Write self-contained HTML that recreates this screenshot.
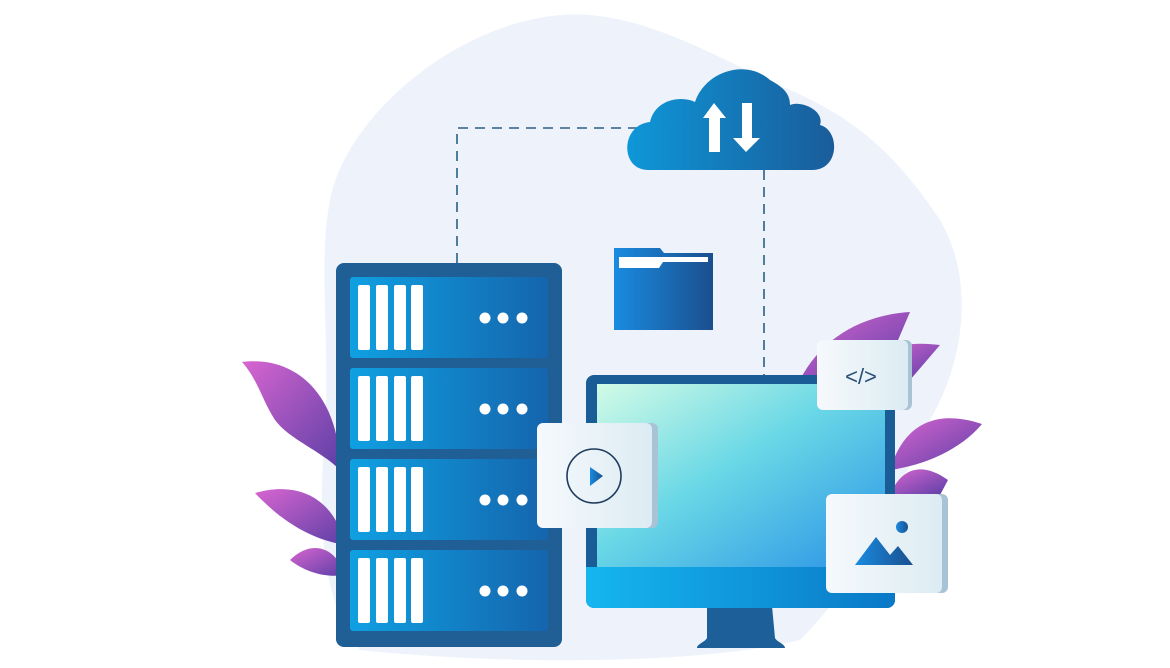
<!DOCTYPE html>
<html><head><style>html,body{margin:0;padding:0;background:#fff}svg{display:block}</style></head><body>
<svg width="1170" height="668" viewBox="0 0 1170 668" xmlns="http://www.w3.org/2000/svg">
<defs>
<linearGradient id="unit" x1="0" x2="1"><stop offset="0" stop-color="#0fa0e2"/><stop offset="1" stop-color="#1565ad"/></linearGradient>
<linearGradient id="cloud" x1="0" x2="1"><stop offset="0" stop-color="#0e97d8"/><stop offset="1" stop-color="#1a5c9a"/></linearGradient>
<linearGradient id="screen" x1="0" y1="0" x2="1" y2="1"><stop offset="0" stop-color="#d2fbe6"/><stop offset="0.45" stop-color="#6ad8e6"/><stop offset="1" stop-color="#2a92e6"/></linearGradient>
<linearGradient id="chin" x1="0" x2="1"><stop offset="0" stop-color="#15b6f0"/><stop offset="1" stop-color="#0a78c6"/></linearGradient>
<linearGradient id="leaf" x1="0" y1="0" x2="1" y2="1"><stop offset="0" stop-color="#d865d0"/><stop offset="1" stop-color="#5b3fa6"/></linearGradient>
<linearGradient id="card" x1="0" x2="1"><stop offset="0" stop-color="#f6f9fc"/><stop offset="1" stop-color="#dcecf3"/></linearGradient>
<linearGradient id="icon" x1="0" x2="1"><stop offset="0" stop-color="#1a8be0"/><stop offset="1" stop-color="#1a4f8e"/></linearGradient>
</defs>
<path d="M560,15 C640,8 720,60 790,90 C860,120 900,160 940,220 C975,280 965,360 930,420 C900,480 880,560 800,640 C700,665 500,665 360,650 C320,600 318,520 325,430 C330,340 318,260 330,200 C345,120 450,25 560,15 Z" fill="#eef3fb"/>
<path d="M242,362 C300,355 340,400 340,470 C320,450 290,440 275,420 C262,400 258,380 242,362 Z" fill="url(#leaf)"/>
<path d="M255,493 C300,480 335,500 345,545 C315,540 285,525 255,493 Z" fill="url(#leaf)"/>
<path d="M290,560 C310,540 335,545 345,575 C325,578 305,572 290,560 Z" fill="url(#leaf)"/>
<path d="M910,312 C860,315 820,340 800,380 L880,380 C890,360 900,335 910,312 Z" fill="url(#leaf)"/>
<path d="M940,345 C900,340 880,350 870,370 L910,380 Z" fill="url(#leaf)"/>
<path d="M982,424 C940,410 905,420 890,470 C925,465 960,450 982,424 Z" fill="url(#leaf)"/>
<path d="M948,480 C920,460 900,470 890,495 L940,495 Z" fill="url(#leaf)"/>
<g stroke="#2a5f88" stroke-width="1.6" stroke-dasharray="10,7" fill="none">
<path d="M457,263 V128 H640"/><path d="M764,170 V376"/>
</g>
<path d="M648,170 C620,170 620,125 650,122 C655,100 680,95 695,102 C705,72 745,58 770,80 C785,88 790,95 790,105 C800,100 825,110 820,125 C840,130 840,170 812,170 Z" fill="url(#cloud)"/>
<path d="M714,103 L703,118 H709 V152 H720 V118 H726 Z M742,103 V138 H733 L746,152 L760,138 H752 V103 Z" fill="#fff"/>
<path d="M614,248 H660 L664,253 H713 V330 H614 Z" fill="url(#icon)"/>
<path d="M619,257 H708 V262 H663 L659,268 H619 Z" fill="#fff"/>
<rect x="336" y="263" width="226" height="384" rx="8" fill="#1f5f96"/>
<g id="u">
<rect x="350" y="277" width="198" height="81" rx="3" fill="url(#unit)"/>
<g fill="#fff"><rect x="358" y="285" width="12" height="65" rx="2"/><rect x="376" y="285" width="12" height="65" rx="2"/><rect x="394" y="285" width="12" height="65" rx="2"/><rect x="411" y="285" width="12" height="65" rx="2"/>
<circle cx="485" cy="318" r="5.5"/><circle cx="503" cy="318" r="5.5"/><circle cx="522" cy="318" r="5.5"/></g>
</g>
<use href="#u" y="91"/><use href="#u" y="182"/><use href="#u" y="273"/>
<path d="M707,606 H772 L775,638 C777,642 785,644 785,648 H697 C697,644 705,642 707,638 Z" fill="#1d5f98"/>
<rect x="586" y="375" width="309" height="233" rx="8" fill="#1a5d96"/>
<rect x="597" y="384" width="288" height="183" fill="url(#screen)"/>
<path d="M586,567 H895 V600 a8,8 0 0 1 -8,8 H594 a8,8 0 0 1 -8,-8 Z" fill="url(#chin)"/>
<rect x="540" y="423" width="118" height="105" rx="6" fill="#a9c3d6"/>
<rect x="537" y="423" width="115" height="105" rx="6" fill="url(#card)"/>
<circle cx="594" cy="476" r="27" fill="none" stroke="#1f3b5c" stroke-width="1.6"/>
<path d="M590,467 L603,476 L590,486 Z" fill="url(#icon)"/>
<rect x="820" y="340" width="92" height="70" rx="6" fill="#a9c3d6"/>
<rect x="817" y="340" width="91" height="70" rx="6" fill="url(#card)"/>
<text x="861" y="384" text-anchor="middle" font-family="Liberation Sans, sans-serif" font-size="22" fill="#2a4f78">&lt;/&gt;</text>
<rect x="829" y="494" width="119" height="99" rx="6" fill="#a9c3d6"/>
<rect x="826" y="494" width="116" height="99" rx="6" fill="url(#card)"/>
<circle cx="902" cy="527" r="6" fill="url(#icon)"/>
<path d="M855,565 L876,537 L890,555 L898,546 L913,565 Z" fill="url(#icon)"/>
</svg>
</body></html>
